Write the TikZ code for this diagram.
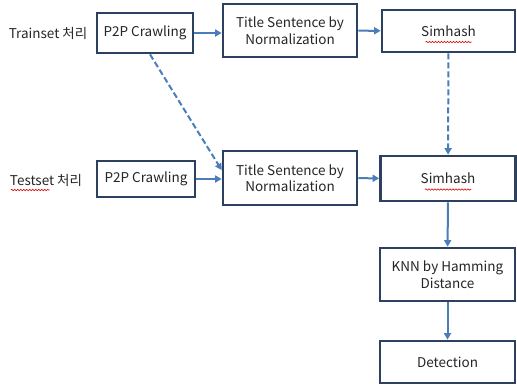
\documentclass[tikz,border=0pt]{standalone}
\usepackage{fontspec}
\setmainfont{Noto Sans CJK KR}
\usetikzlibrary{arrows.meta,decorations.pathmorphing}
\definecolor{boxc}{HTML}{2C4160}
\definecolor{arrc}{HTML}{4A7EBB}
\definecolor{textc}{HTML}{262626}
\begin{document}
\begin{tikzpicture}[x=1pt,y=-1pt,
  box/.style={draw=boxc, line width=2.7pt, fill=white, inner sep=0pt, align=center,
    font=\fontsize{13.5}{16.5}\selectfont, text=textc},
  lbl/.style={font=\fontsize{13.5}{16.5}\selectfont, text=textc, inner sep=0pt},
  conn/.style={draw=arrc, line width=2pt, -{Triangle[length=6.5pt,width=7pt]}},
  dconn/.style={conn, dash pattern=on 6pt off 3pt},
  squig/.style={draw=red!85!black, line width=0.6pt, decorate,
    decoration={snake, amplitude=0.7pt, segment length=3pt}}]
\useasboundingbox[fill=white] (0,0) rectangle (517,386);

\node[lbl] (train) at (48,33) {Trainset 처리};
\node[lbl] (test) at (46,180) {Testset 처리};

\node[box, minimum width=96pt, minimum height=40pt] (p2p1) at (145,33) {P2P Crawling};
\node[box, minimum width=134pt, minimum height=53pt] (title1) at (290,30.5) {Title Sentence by\\Normalization};
\node[box, minimum width=133pt, minimum height=42pt] (sim1) at (448.5,31) {Simhash};

\node[box, minimum width=98pt, minimum height=36pt] (p2p2) at (146,179) {P2P Crawling};
\node[box, minimum width=134pt, minimum height=54pt] (title2) at (290,178) {Title Sentence by\\Normalization};
\node[box, minimum width=135pt, minimum height=45pt] (sim2) at (448,178.5) {Simhash};

\node[box, minimum width=135pt, minimum height=53pt] (knn) at (447.5,274.5) {KNN by Hamming\\Distance};
\node[box, minimum width=135pt, minimum height=42pt] (det) at (447.5,362) {Detection};

\draw[conn] (p2p1) -- (title1.west |- p2p1);
\draw[conn] (title1) -- (sim1);
\draw[conn] (p2p2) -- (title2.west |- p2p2);
\draw[conn] (title2) -- (sim2);
\draw[conn] (sim2) -- (knn);
\draw[conn] (knn) -- (det);

\coordinate (dstart) at ([xshift=5pt]p2p1.south);
\coordinate (dend) at ([yshift=8pt]title2.west);
\draw[dconn] (dstart) -- (dend);
\draw[dconn] (sim1) -- (sim2);

\draw[squig] ([xshift=-23pt,yshift=-11pt]sim1.center) -- ([xshift=23pt,yshift=-11pt]sim1.center);
\draw[squig] ([xshift=-23pt,yshift=-11pt]sim2.center) -- ([xshift=23pt,yshift=-11pt]sim2.center);
\draw[squig] ([xshift=1pt,yshift=-10pt]test.west) -- ([xshift=40pt,yshift=-10pt]test.west);
\end{tikzpicture}
\end{document}
